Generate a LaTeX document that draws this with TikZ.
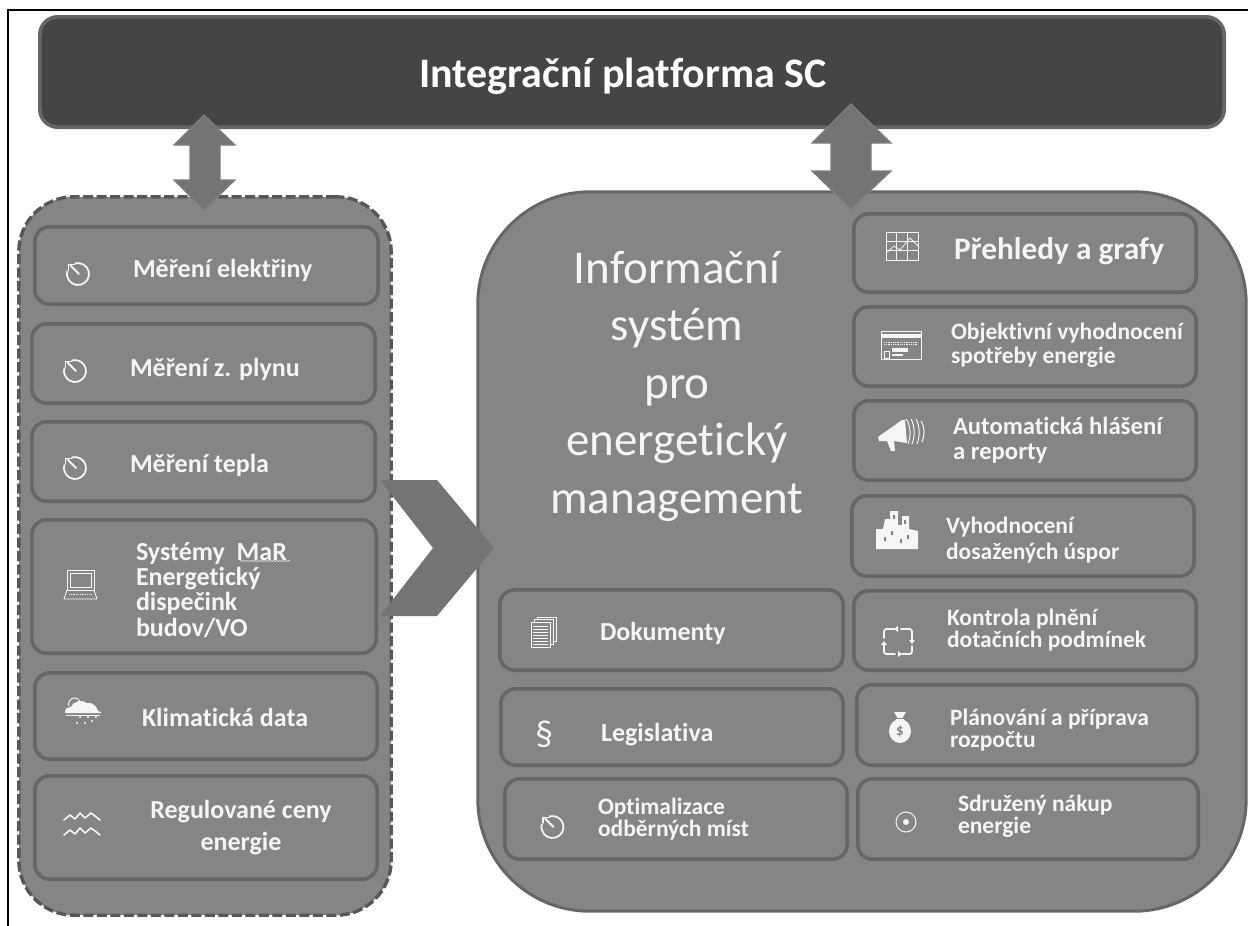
\documentclass[tikz,border=0pt]{standalone}
\usepackage{fontspec}
\setmainfont[Ligatures=CommonOff]{Carlito}
\usetikzlibrary{decorations.pathmorphing}
\definecolor{boxfill}{HTML}{858585}
\definecolor{boxline}{HTML}{666666}
\definecolor{topfill}{HTML}{454545}
\definecolor{arrowfill}{HTML}{747474}
\definecolor{arrowline}{HTML}{7E7E7E}
\definecolor{inktext}{HTML}{F5F5F5}
\tikzset{
  x=1pt,y=-1pt,
  panel/.style={draw=boxline,fill=boxfill,line width=3.6pt,rounded corners=15pt,inner sep=0pt,outer sep=0pt},
  lbl/.style 2 args={text=inktext,inner sep=0pt,outer sep=0pt,anchor=west,align=left,font=\fontsize{#1}{#2}\selectfont\bfseries},
  blockshape/.style={fill=arrowfill,draw=arrowline,line width=1.2pt,line join=miter},
  ico/.style={draw=inktext,line width=1.8pt,line cap=round,line join=round},
  icothin/.style={draw=inktext,line width=0.8pt},
  icofill/.style={fill=inktext,draw=none},
}
% name, x0, y0, x1, y1 (outer edges), extra options
\newcommand{\panelbox}[6][]{%
  \pgfmathsetmacro{\pw}{#5-#3-3.6}\pgfmathsetmacro{\ph}{#6-#4-3.6}%
  \pgfmathsetmacro{\pcx}{(#3+#5)/2}\pgfmathsetmacro{\pcy}{(#4+#6)/2}%
  \node[panel,minimum width=\pw pt,minimum height=\ph pt,#1] (#2) at (\pcx,\pcy) {};}
\newcommand{\clockicon}[2]{%
  \begin{scope}[shift={(#1,#2)}]
    \draw[ico] (-2.85,-10.6) arc[start angle=105,end angle=-195,radius=11pt];
    \draw[ico] (-7.5,-8.5) -- (1,0);
    \draw[ico] (-9.5,-9.5) -- (-9.5,-4);
    \draw[ico] (-9.5,-9.5) -- (-3.5,-9.5);
  \end{scope}}
\begin{document}
\begin{tikzpicture}
\useasboundingbox (0,0) rectangle (1248,926);
\fill[white] (0,0) rectangle (1248,926);
\draw[black,line width=1.4pt] (1248,10) -- (8,10) -- (8,926);

% containers
\panelbox[rounded corners=55pt,dash pattern=on 10pt off 3.5pt,line width=3.4pt,draw=boxline!85!black]{leftgroup}{17}{195}{393}{917}
\panelbox[rounded corners=112pt,line width=3pt]{rightgroup}{476}{190}{1248}{913}

% top bar
\panelbox[fill=topfill,rounded corners=18pt]{topbar}{38}{15}{1226}{129}
\node[text=white,inner sep=0pt,font=\fontsize{42}{46}\selectfont\bfseries] (toptitle) at (623,76) {Integrační platforma SC};

% left column
\panelbox{meleR}{33}{225}{380}{306}
\panelbox{meplyn}{30}{322}{377}{405}
\panelbox{meteplo}{30}{420}{377}{503}
\panelbox{mar}{30}{518}{378}{655}
\panelbox{klima}{33}{671}{379}{761}
\panelbox{ceny}{33}{774}{379}{881}

\node[lbl={26}{28}] (t1) at (133,270) {Měření elektřiny};
\node[lbl={26}{28}] (t2) at (130,369) {Měření z. plynu};
\node[lbl={26}{28}] (t3) at (130,465) {Měření tepla};
\node[lbl={26}{25.2}] (t4) at (136,590) {Systémy\ \ MaR\\Energetický\\dispečink\\budov/VO};
\coordinate (squigA) at (240,561);
\coordinate (squigB) at (290,561);
\draw[draw=inktext!80!boxfill,line width=0.5pt,decorate,decoration={zigzag,amplitude=0.8pt,segment length=3pt}] (squigA) -- (squigB);
\node[lbl={26}{28}] (t5) at (142,717) {Klimatická data};
\node[lbl={26}{32},anchor=center,align=center] (t6) at (241,828) {Regulované ceny\\energie};

% icons left
\clockicon{78}{274}
\clockicon{75}{371}
\clockicon{75}{468}
\begin{scope}[shift={(64,570)}]
  \draw[icothin] (3,0) rectangle (30,20);
  \draw[icothin] (6,3) rectangle (27,17);
  \draw[icothin,line join=round] (3,20) -- (0,29) -- (33,29) -- (30,20);
  \draw[icothin,densely dotted] (5,24.5) -- (28,24.5);
\end{scope}
\begin{scope}[shift={(65,698)}]
  \fill[icofill] (0,14) .. controls (0,10) and (3,9) .. (6,9) .. controls (8,3) and (17,1) .. (22,5) .. controls (28,4) and (32,9) .. (33,13) -- (36,14) -- (36,15) -- (0,15) -- cycle;
  \draw[icothin,line width=1pt] (4,8) arc[start angle=200,end angle=10,radius=6pt];
  \draw[draw=inktext,line width=1pt] (1,17) -- (35,17);
  \fill[icofill] (15,19) circle (1.1pt) (23,19) circle (1.1pt) (31,19) circle (1.1pt) (12,25) circle (1.1pt) (20,25) circle (1.1pt) (27,23) circle (1.1pt);
\end{scope}
\begin{scope}[shift={(64,812)}]
  \draw[ico,line width=1.6pt] (0,8) -- (6,3) -- (11,7) -- (16,1) -- (21,6) -- (27,1) -- (31,4) -- (36,8);
  \draw[ico,line width=1.6pt] (0,23) -- (6,18) -- (11,22) -- (16,16) -- (21,21) -- (27,16) -- (31,19) -- (36,23);
\end{scope}

% chevron
\draw[blockshape,draw=none] (380,480) -- (437,480) -- (494,548) -- (437,616) -- (380,616) -- (433,548) -- cycle;

% right column
\panelbox{prehledy}{852}{212}{1198}{294}
\panelbox{objekt}{852}{305}{1198}{388}
\panelbox{auto}{852}{399}{1198}{482}
\panelbox{vyhod}{850}{494}{1196}{578}
\panelbox{kontrola}{852}{589}{1198}{672}
\panelbox{planovani}{855}{683}{1199}{767}
\panelbox{sdruzeny}{856}{777}{1200}{861}
\panelbox{dokumenty}{498}{588}{845}{672}
\panelbox{legislativa}{499}{687}{845}{767}
\panelbox{optimal}{503}{777}{849}{861}

\node[inner sep=0pt,text=inktext,align=center,font=\fontsize{47}{57.5}\selectfont] (infotitle) at (677,386) {Informační\\systém\\pro\\energetický\\management};

\node[lbl={31.3}{32}] (r1) at (954,251) {Přehledy a grafy};
\node[lbl={23.5}{23.5}] (r2) at (951,345) {Objektivní vyhodnocení\\spotřeby energie};
\node[lbl={24.7}{25}] (r3) at (953,440) {Automatická hlášení\\a reporty};
\node[lbl={23.5}{26}] (r4) at (946,540) {Vyhodnocení\\dosažených úspor};
\node[lbl={23.5}{22.5}] (r5) at (947,630) {Kontrola plnění\\dotačních podmínek};
\node[lbl={23.5}{22.5}] (r6) at (950,730) {Plánování a příprava\\rozpočtu};
\node[lbl={23.5}{21.5}] (r7) at (958,816) {Sdružený nákup\\energie};
\node[lbl={26}{28}] (l1) at (600,633) {Dokumenty};
\node[lbl={26}{28}] (l2) at (601,735) {Legislativa};
\node[lbl={23.5}{22.5}] (l3) at (598,819) {Optimalizace\\odběrných míst};
\node[inner sep=0pt,text=inktext,font=\fontsize{36}{38}\selectfont] (paragraph) at (544,734) {§};

% icons right
\begin{scope}[shift={(886,232)}]
  \draw[icothin] (0,0) rectangle (32,28);
  \draw[icothin] (10.5,0) -- (10.5,28) (21.5,0) -- (21.5,28) (0,9) -- (32,9) (0,18.5) -- (32,18.5);
  \draw[icothin] (0,21) -- (8,14) -- (14,18) -- (24,6) -- (32,14);
\end{scope}
\begin{scope}[shift={(881,331)}]
  \draw[icothin] (0,0) rectangle (40,28);
  \fill[icofill] (0,3) rectangle (40,6.5);
  \draw[icothin,densely dotted] (3,11) -- (37,11) (3,13.5) -- (37,13.5);
  \fill[icofill] (11,17) rectangle (27,21);
  \fill[icofill] (11,23) rectangle (22,24.5);
  \draw[icothin] (3,20) rectangle (8,27);
\end{scope}
\begin{scope}[shift={(878,417)}]
  \fill[icofill] (0,20) -- (24,3) -- (27,3) -- (29,26) -- (16,24) -- (17,34) -- (13,34) -- (9,24) -- (1,24) -- cycle;
  \draw[icothin,line width=1pt] (28,2) .. controls (33,8) and (33,20) .. (30,27);
  \draw[icothin,line width=1pt] (33,2) .. controls (37,9) and (37,20) .. (34,27);
  \draw[icothin,line width=1pt] (38,2) .. controls (42,9) and (42,20) .. (39,27);
  \draw[icothin,line width=1pt] (43,4) .. controls (47,10) and (47,18) .. (44,25);
\end{scope}
\begin{scope}[shift={(876,511)}]
  \fill[icofill] (0,38) -- (0,18) -- (7,18) -- (9,8) -- (14,8) -- (14,0) -- (22,0) -- (22,14) -- (26,14) -- (26,5) -- (33,5) -- (33,18) -- (42,20) -- (42,38) -- cycle;
  \fill[boxfill] (15,20) rectangle (17,24) (8,26) rectangle (10,30) (24,28) rectangle (26,32) (31,24) rectangle (33,28) (17,4) rectangle (19,8) (28,9) rectangle (30,13);
\end{scope}
\begin{scope}[shift={(882,628)}]
  \draw[ico,rounded corners=2.5pt] (12,1) -- (2,1) -- (2,10);
  \draw[ico,rounded corners=2.5pt] (19,1) -- (30,1) -- (30,12);
  \draw[ico,rounded corners=2.5pt] (30,18) -- (30,26) -- (20,26);
  \draw[ico,rounded corners=2.5pt] (13,26) -- (2,26) -- (2,17);
  \fill[icofill] (16,-2) -- (16,4) -- (12,1) -- cycle (33,12) -- (27,12) -- (30,16) -- cycle (16,23) -- (16,29) -- (20,26) -- cycle (-1,17) -- (5,17) -- (2,13) -- cycle;
\end{scope}
\begin{scope}[shift={(900,728)}]
  \fill[icofill] (0,3) ellipse (11pt and 12pt);
  \fill[icofill] (-6,-16) -- (6,-16) -- (2.5,-10) -- (-2.5,-10) -- cycle;
  \fill[icofill] (-4,-9) rectangle (4,-7);
  \node[inner sep=0pt,text=boxfill,font=\fontsize{15}{15}\selectfont\bfseries] (bagsign) at (0,3) {\$};
\end{scope}
\draw[icothin,line width=1pt] (906,822) circle (10pt);
\fill[icofill] (906,822) circle (3pt);
\begin{scope}[shift={(531,617)}]
  \draw[icothin,fill=boxfill] (6,0) rectangle (25,24);
  \draw[icothin,fill=boxfill] (3,2.5) rectangle (22,27);
  \draw[icothin,fill=boxfill] (0,5) rectangle (19,30);
  \foreach \yy in {9,12,15,18,21,24,27} \draw[icothin,line width=1pt] (2,\yy) -- (17,\yy);
\end{scope}
\clockicon{552.5}{827}

% block arrows
\draw[blockshape] (204,115) -- (235,145) -- (220,145) -- (220,180) -- (235,180) -- (204,210) -- (174,180) -- (190,180) -- (190,145) -- (174,145) -- cycle;
\draw[blockshape] (851,104) -- (891,143) -- (871,143) -- (871,171) -- (891,171) -- (851,209) -- (812,171) -- (831,171) -- (831,143) -- (812,143) -- cycle;
\end{tikzpicture}
\end{document}
